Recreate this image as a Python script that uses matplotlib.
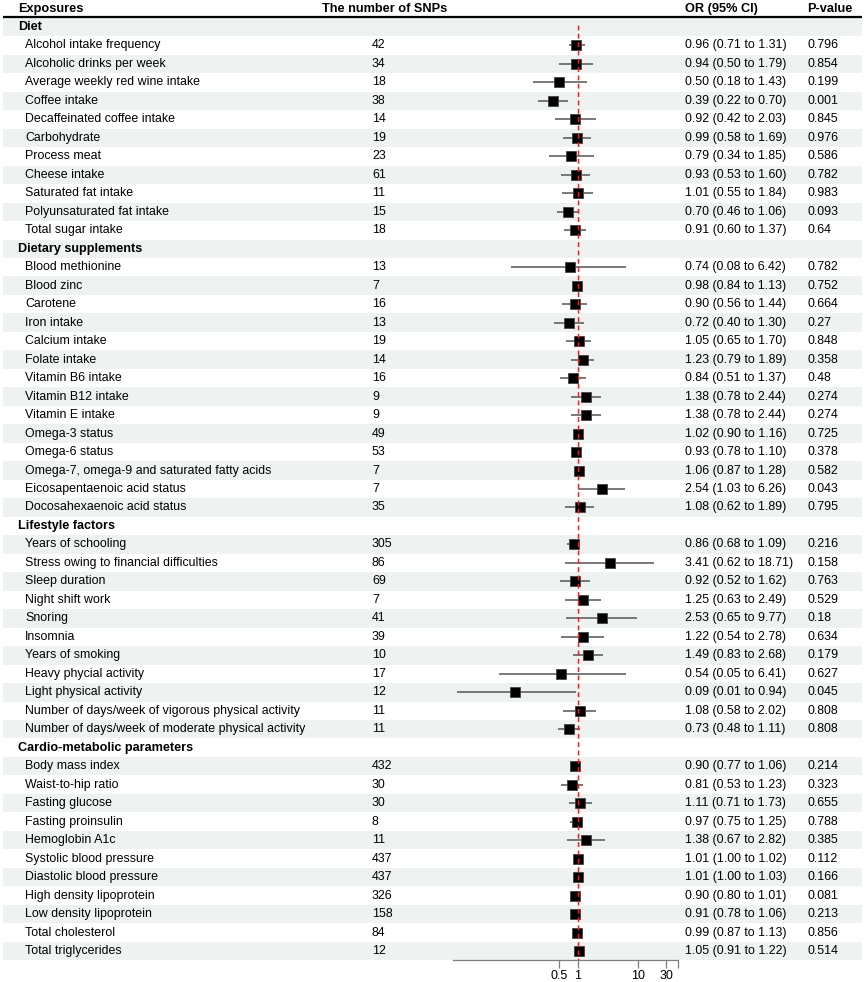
import matplotlib
matplotlib.use("Agg")
import matplotlib.pyplot as plt
from matplotlib.ticker import FixedLocator, FixedFormatter, NullLocator

plt.rcParams['font.family'] = ['Liberation Sans', 'DejaVu Sans']

# ---------------- data ----------------
groups = ["Diet", "Dietary supplements", "Lifestyle factors", "Cardio-metabolic parameters"]

diet_names = ["Alcohol intake frequency", "Alcoholic drinks per week", "Average weekly red wine intake",
              "Coffee intake", "Decaffeinated coffee intake", "Carbohydrate", "Process meat",
              "Cheese intake", "Saturated fat intake", "Polyunsaturated fat intake", "Total sugar intake"]
diet_snps = [42, 34, 18, 38, 14, 19, 23, 61, 11, 15, 18]
diet_or = [0.96, 0.94, 0.50, 0.39, 0.92, 0.99, 0.79, 0.93, 1.01, 0.70, 0.91]
diet_lo = [0.71, 0.50, 0.18, 0.22, 0.42, 0.58, 0.34, 0.53, 0.55, 0.46, 0.60]
diet_hi = [1.31, 1.79, 1.43, 0.70, 2.03, 1.69, 1.85, 1.60, 1.84, 1.06, 1.37]
diet_p = ["0.796", "0.854", "0.199", "0.001", "0.845", "0.976", "0.586", "0.782", "0.983", "0.093", "0.64"]

supp_names = ["Blood methionine", "Blood zinc", "Carotene", "Iron intake", "Calcium intake",
              "Folate intake", "Vitamin B6 intake", "Vitamin B12 intake", "Vitamin E intake",
              "Omega-3 status", "Omega-6 status", "Omega-7, omega-9 and saturated fatty acids",
              "Eicosapentaenoic acid status", "Docosahexaenoic acid status"]
supp_snps = [13, 7, 16, 13, 19, 14, 16, 9, 9, 49, 53, 7, 7, 35]
supp_or = [0.74, 0.98, 0.90, 0.72, 1.05, 1.23, 0.84, 1.38, 1.38, 1.02, 0.93, 1.06, 2.54, 1.08]
supp_lo = [0.08, 0.84, 0.56, 0.40, 0.65, 0.79, 0.51, 0.78, 0.78, 0.90, 0.78, 0.87, 1.03, 0.62]
supp_hi = [6.42, 1.13, 1.44, 1.30, 1.70, 1.89, 1.37, 2.44, 2.44, 1.16, 1.10, 1.28, 6.26, 1.89]
supp_p = ["0.782", "0.752", "0.664", "0.27", "0.848", "0.358", "0.48", "0.274", "0.274",
          "0.725", "0.378", "0.582", "0.043", "0.795"]

life_names = ["Years of schooling", "Stress owing to financial difficulties", "Sleep duration",
              "Night shift work", "Snoring", "Insomnia", "Years of smoking", "Heavy phycial activity",
              "Light physical activity", "Number of days/week of vigorous physical activity",
              "Number of days/week of moderate physical activity"]
life_snps = [305, 86, 69, 7, 41, 39, 10, 17, 12, 11, 11]
life_or = [0.86, 3.41, 0.92, 1.25, 2.53, 1.22, 1.49, 0.54, 0.09, 1.08, 0.73]
life_lo = [0.68, 0.62, 0.52, 0.63, 0.65, 0.54, 0.83, 0.05, 0.01, 0.58, 0.48]
life_hi = [1.09, 18.71, 1.62, 2.49, 9.77, 2.78, 2.68, 6.41, 0.94, 2.02, 1.11]
life_p = ["0.216", "0.158", "0.763", "0.529", "0.18", "0.634", "0.179", "0.627", "0.045", "0.808", "0.808"]

card_names = ["Body mass index", "Waist-to-hip ratio", "Fasting glucose", "Fasting proinsulin",
              "Hemoglobin A1c", "Systolic blood pressure", "Diastolic blood pressure",
              "High density lipoprotein", "Low density lipoprotein", "Total cholesterol",
              "Total triglycerides"]
card_snps = [432, 30, 30, 8, 11, 437, 437, 326, 158, 84, 12]
card_or = [0.90, 0.81, 1.11, 0.97, 1.38, 1.01, 1.01, 0.90, 0.91, 0.99, 1.05]
card_lo = [0.77, 0.53, 0.71, 0.75, 0.67, 1.00, 1.00, 0.80, 0.78, 0.87, 0.91]
card_hi = [1.06, 1.23, 1.73, 1.25, 2.82, 1.02, 1.03, 1.01, 1.06, 1.13, 1.22]
card_p = ["0.214", "0.323", "0.655", "0.788", "0.385", "0.112", "0.166", "0.081", "0.213", "0.856", "0.514"]

tick_vals = [0.5, 1, 10, 30]
tick_labels = ["0.5", "1", "10", "30"]
headers = ["Exposures", "The number of SNPs", "OR (95% CI)", "P-value"]

# ---------------- assemble rows ----------------
sections = [
    (groups[0], diet_names, diet_snps, diet_or, diet_lo, diet_hi, diet_p),
    (groups[1], supp_names, supp_snps, supp_or, supp_lo, supp_hi, supp_p),
    (groups[2], life_names, life_snps, life_or, life_lo, life_hi, life_p),
    (groups[3], card_names, card_snps, card_or, card_lo, card_hi, card_p),
]
rows = []  # (kind, name, snps, or, lo, hi, p)
for g, names, snps, ors, los, his, ps in sections:
    rows.append(("group", g, None, None, None, None, None))
    for i in range(len(names)):
        rows.append(("item", names[i], snps[i], ors[i], los[i], his[i], ps[i]))
n = len(rows)

# ---------------- layout (pixels) ----------------
W, H = 865, 982
row_h = 18.48
first_c = 27.0
y_top_px = 0.0
y_bot_px = first_c + (n - 0.5) * row_h
top_row = -0.5 - (first_c - row_h / 2) / row_h
bot_row = n - 0.5

fig = plt.figure(figsize=(W / 100, H / 100), dpi=100)
fig.patch.set_facecolor("white")
ax_b = (H - y_bot_px) / H
ax_h = (y_bot_px - y_top_px) / H

tab = fig.add_axes([0, ax_b, 1, ax_h])
tab.set_xlim(0, W)
tab.set_ylim(bot_row, top_row)
tab.axis("off")

fx0, fx1 = 453, 678
fa = fig.add_axes([fx0 / W, ax_b, (fx1 - fx0) / W, ax_h])
fa.set_facecolor("none")
fa.set_xscale("log")
xmin = 10 ** ((fx0 - 577.5) / 60.2)
xmax = 10 ** ((fx1 - 577.5) / 60.2)
fa.set_xlim(xmin, xmax)
fa.set_ylim(bot_row, top_row)
for s in ["top", "left", "right"]:
    fa.spines[s].set_visible(False)
fa.spines["bottom"].set_color("#7f7f7f")
fa.spines["bottom"].set_linewidth(0.9)
fa.xaxis.set_major_locator(FixedLocator(tick_vals + [xmax]))
fa.xaxis.set_major_formatter(FixedFormatter(tick_labels + [""]))
fa.xaxis.set_minor_locator(NullLocator())
fa.tick_params(axis="x", which="major", direction="out", length=5.5, width=0.9,
               color="#7f7f7f", labelsize=9, pad=1.5, labelcolor="black")
fa.set_yticks([])

band_color = "#EEF2F1"
fs = 8.9
x_name_g, x_name_i, x_snp, x_or, x_p = 18, 25, 372, 685, 807

# header
hy = -0.98
tab.text(x_name_g, hy, headers[0], fontsize=9.2, fontweight="bold", va="center", ha="left")
tab.text(322, hy, headers[1], fontsize=9.2, fontweight="bold", va="center", ha="left")
tab.text(x_or, hy, headers[2], fontsize=9.2, fontweight="bold", va="center", ha="left")
tab.text(x_p, hy, headers[3], fontsize=9.2, fontweight="bold", va="center", ha="left")
tab.plot([3, 862], [-0.56, -0.56], color="black", lw=1.6, solid_capstyle="butt")

for i, (kind, name, snp, orv, lo, hi, p) in enumerate(rows):
    if i % 2 == 0:
        tab.fill_between([3, 862], i - 0.5, i + 0.5, color=band_color, lw=0, zorder=0)
    if kind == "group":
        tab.text(x_name_g, i, name, fontsize=fs + 0.2, fontweight="bold", va="center", ha="left")
    else:
        tab.text(x_name_i, i, name, fontsize=fs, va="center", ha="left")
        tab.text(x_snp, i, str(snp), fontsize=fs, va="center", ha="left")
        tab.text(x_or, i, f"{orv:.2f} ({lo:.2f} to {hi:.2f})", fontsize=fs, va="center", ha="left")
        tab.text(x_p, i, p, fontsize=fs, va="center", ha="left")
        fa.plot([lo, hi], [i, i], color="#555555", lw=1.1, zorder=3, solid_capstyle="butt")
        fa.plot([orv], [i], marker="s", markersize=7.2, markerfacecolor="black",
                markeredgecolor="#444444", markeredgewidth=0.6, zorder=4, linestyle="none")

fa.plot([1, 1], [-0.1, bot_row], color="#E8202A", lw=1.0, linestyle=(0, (3.5, 2.5)), zorder=5)

fig.savefig("out.png", dpi=100, facecolor="white")
